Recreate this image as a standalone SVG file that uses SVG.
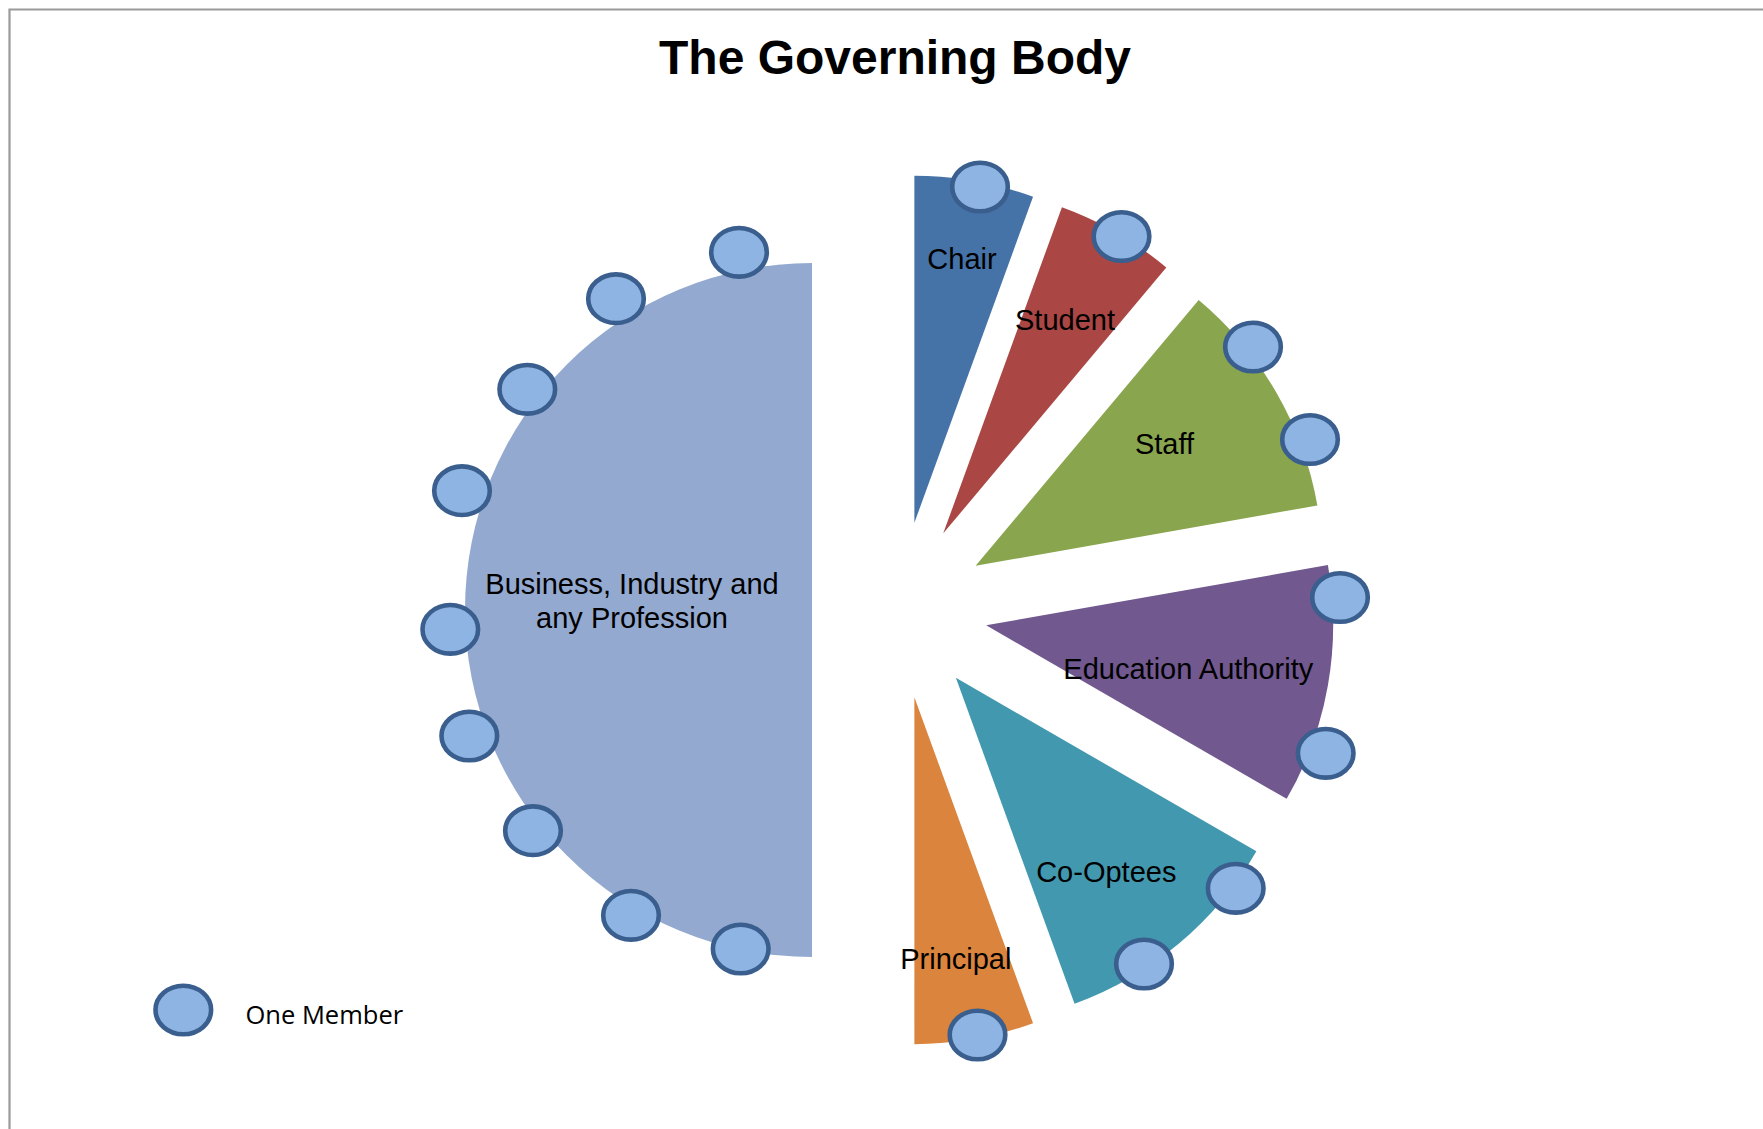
<svg xmlns="http://www.w3.org/2000/svg" width="1763" height="1129" viewBox="0 0 1763 1129">
<style>
.lbl{font-family:"Liberation Sans",Arial,sans-serif;font-size:29px;fill:#000;text-anchor:middle}
.title{font-family:"Liberation Sans",Arial,sans-serif;font-size:48px;font-weight:bold;fill:#000;text-anchor:middle}
.mem{fill:#8EB4E3;stroke:#3A5F8E;stroke-width:4.6}
.legend{font-family:"Open Sans","Noto Sans",sans-serif;font-size:25.5px;fill:#000}
</style>
<defs>
<ellipse id="m" cx="0" cy="0" rx="27.8" ry="24.3" class="mem"/>
</defs>
<rect x="0" y="0" width="1763" height="1129" fill="#fff"/>
<path d="M9.5 1129 V9.5 H1763" fill="none" stroke="#9a9a9a" stroke-width="2.2"/>
<text class="title" x="895" y="74">The Governing Body</text>

<g id="business">
<path d="M812 610 L812 957 A347 347 0 0 1 465 610 A347 347 0 0 1 812 263 Z" fill="#93A9CF"/>
<text class="lbl" x="632" y="593.5">Business, Industry and</text>
<text class="lbl" x="632" y="627.5">any Profession</text>
<use href="#m" x="739" y="252.3"/>
<use href="#m" x="616" y="298.7"/>
<use href="#m" x="527.3" y="389.3"/>
<use href="#m" x="462" y="490.7"/>
<use href="#m" x="450.3" y="629.3"/>
<use href="#m" x="469.3" y="736"/>
<use href="#m" x="533" y="830.7"/>
<use href="#m" x="631" y="915.3"/>
<use href="#m" x="740.7" y="949"/>
</g>

<g id="chair">
<path d="M914.37 522.84 L914.37 175.84 A347 347 0 0 1 1033.05 196.77 Z" fill="#4572A7"/>
<text class="lbl" x="962" y="269">Chair</text>
<use href="#m" x="980" y="187"/>
</g>

<g id="student">
<path d="M943.25 533.36 L1061.93 207.29 A347 347 0 0 1 1166.30 267.54 Z" fill="#AA4643"/>
<text class="lbl" x="1065" y="330">Student</text>
<use href="#m" x="1121.5" y="236.5"/>
</g>

<g id="staff">
<path d="M975.64 565.75 L1198.69 299.93 A347 347 0 0 1 1317.37 505.49 Z" fill="#89A54E"/>
<text class="lbl" x="1164.5" y="454">Staff</text>
<use href="#m" x="1253" y="347"/>
<use href="#m" x="1310" y="439.5"/>
</g>

<g id="education-authority">
<path d="M986.16 625.37 L1327.89 565.11 A347 347 0 0 1 1286.67 798.87 Z" fill="#71588F"/>
<text class="lbl" x="1188.3" y="679.3">Education Authority</text>
<use href="#m" x="1340" y="597.5"/>
<use href="#m" x="1325.7" y="753.3"/>
</g>

<g id="co-optees">
<path d="M955.89 677.79 L1256.40 851.29 A347 347 0 0 1 1074.57 1003.86 Z" fill="#4198AF"/>
<text class="lbl" x="1106.3" y="882.3">Co-Optees</text>
<use href="#m" x="1235.7" y="888.3"/>
<use href="#m" x="1144" y="964"/>
</g>

<g id="principal">
<path d="M914.37 697.16 L1033.05 1023.23 A347 347 0 0 1 914.37 1044.16 Z" fill="#DB843D"/>
<text class="lbl" x="955.8" y="969">Principal</text>
<use href="#m" x="977.5" y="1035"/>
</g>

<g id="connectors"></g>

<g id="legend">
<use href="#m" x="183.3" y="1010"/>
<text class="legend" x="245.5" y="1024">One Member</text>
</g>
</svg>
